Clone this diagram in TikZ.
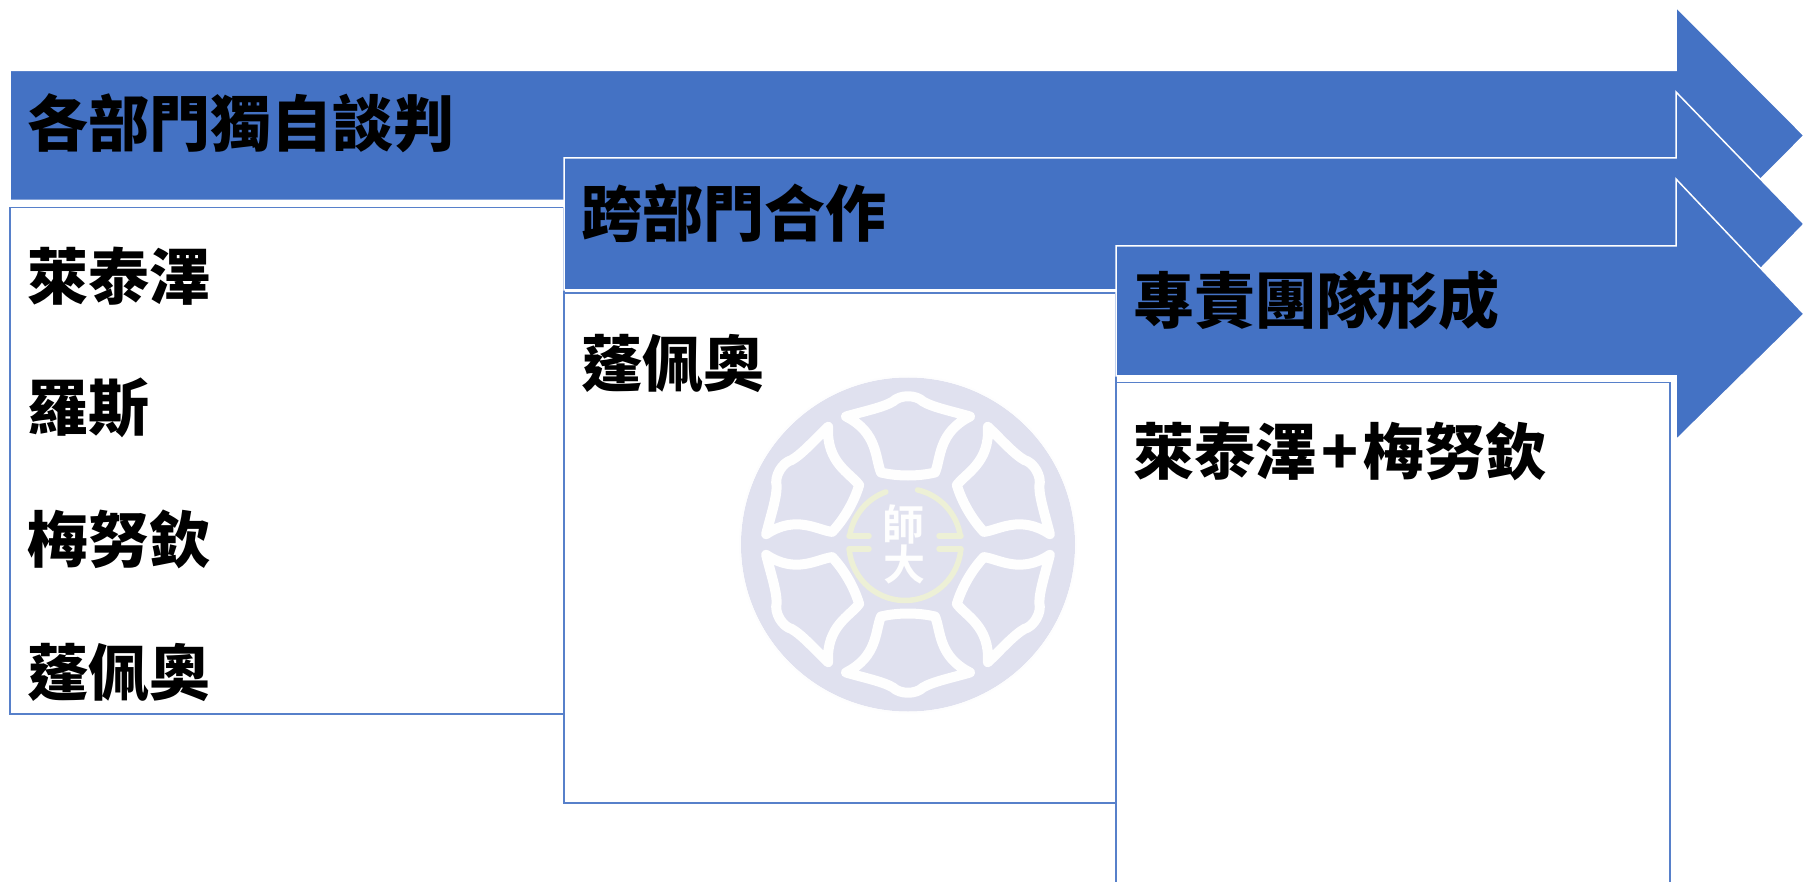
\documentclass[tikz,border=0pt]{standalone}
\usepackage{fontspec}
\newfontfamily\cjk[BoldFont={Noto Sans CJK TC Black}]{Noto Sans CJK TC}
\newfontfamily\cjkseal{Noto Sans CJK TC Bold}
\definecolor{arrowblue}{HTML}{4472C4}
\definecolor{seal}{HTML}{E0E1EF}
\definecolor{ringy}{HTML}{EDF0D6}
\tikzset{
  x=1pt,y=-1pt,
  bigarrow/.style={fill=arrowblue,draw=white,line width=1.5pt,line join=miter},
  panel/.style={fill=white,draw=arrowblue!90!white,line width=1.6pt},
  label/.style={font=\cjk\bfseries\fontsize{61}{61}\selectfont,text=black,anchor=west,inner sep=0pt,text height=51pt,text depth=9pt},
  bell/.style={fill=seal,draw=white!96!seal,line width=10pt,line join=round},
  ringarc/.style={draw=ringy,line width=5.5pt,line cap=round},
  sealtext/.style={font=\cjkseal\fontsize{42}{42}\selectfont,text=white!96!seal,inner sep=0pt}
}
\newcommand{\sealbell}[1]{%
  \begin{scope}[shift={(908,544.5)},rotate=#1]
    \draw[bell] (-27,-72) .. controls (-33,-86) and (-30,-112) .. (-62,-128)
      .. controls (-45,-133) and (-25,-137) .. (-15,-143)
      .. controls (-8,-150) and (8,-150) .. (15,-143)
      .. controls (25,-137) and (45,-133) .. (62,-128)
      .. controls (30,-112) and (33,-86) .. (27,-72)
      .. controls (10,-68) and (-10,-68) .. (-27,-72) -- cycle;
  \end{scope}}
\begin{document}
\begin{tikzpicture}
\useasboundingbox (0,0) rectangle (1804,882);
\fill[white] (0,0) rectangle (1804,882);
% first stage
\draw[bigarrow] (10,70.5) -- (1676,70.5) -- (1676,7) -- (1804,135.5) -- (1676,264) -- (1676,200.5) -- (10,200.5) -- cycle;
\draw[panel] (10,207.5) rectangle (564,714);
% second stage
\draw[bigarrow] (564,158) -- (1676,158) -- (1676,92) -- (1804,224) -- (1676,356) -- (1676,290) -- (564,290) -- cycle;
\draw[panel] (564,293) rectangle (1116,803);
% watermark
\fill[seal] (908,544.5) circle[radius=167];
\draw[white!94!seal,line width=1.5pt] (908,544.5) circle[radius=168];
\sealbell{0}
\sealbell{60}
\sealbell{120}
\sealbell{180}
\sealbell{240}
\sealbell{300}
\begin{scope}[shift={(905,544.5)}]
  \draw[ringarc] (-110:56) arc[start angle=-110,end angle=-171,radius=56];
  \draw[ringarc] (-77:56) arc[start angle=-77,end angle=-8.5,radius=56];
  \draw[ringarc] (175:56) arc[start angle=175,end angle=5,radius=56];
\end{scope}
\draw[ringarc] (849,536) -- (869,536);
\draw[ringarc] (849,549) -- (869,549);
\draw[ringarc] (939,536) -- (961,536);
\draw[ringarc] (939,549) -- (961,549);
\node[sealtext] (shi) at (903,524) {師};
\node[sealtext] (da) at (904,564) {大};
% third stage
\draw[bigarrow] (1116,246) -- (1676,246) -- (1676,179) -- (1804,314) -- (1676,440) -- (1676,376) -- (1116,376) -- cycle;
\fill[white] (1116,382.5) rectangle (1670,882);
\draw[arrowblue!90!white,line width=1.6pt] (1116,882) -- (1116,382.5) -- (1670,382.5) -- (1670,882);
% labels
\node[label] (h1) at (27,126) {各部門獨自談判};
\node[label] (a1) at (27,278.5) {萊泰澤};
\node[label] (a2) at (27,409.5) {羅斯};
\node[label] (a3) at (27,541) {梅努欽};
\node[label] (a4) at (27,674) {蓬佩奧};
\node[label] (h2) at (581,215.5) {跨部門合作};
\node[label] (b1) at (581,365.5) {蓬佩奧};
\node[label] (h3) at (1133,303) {專責團隊形成};
\node[label] (c1) at (1133,453.5) {萊泰澤\kern5pt+\kern5pt梅努欽};
\end{tikzpicture}
\end{document}
